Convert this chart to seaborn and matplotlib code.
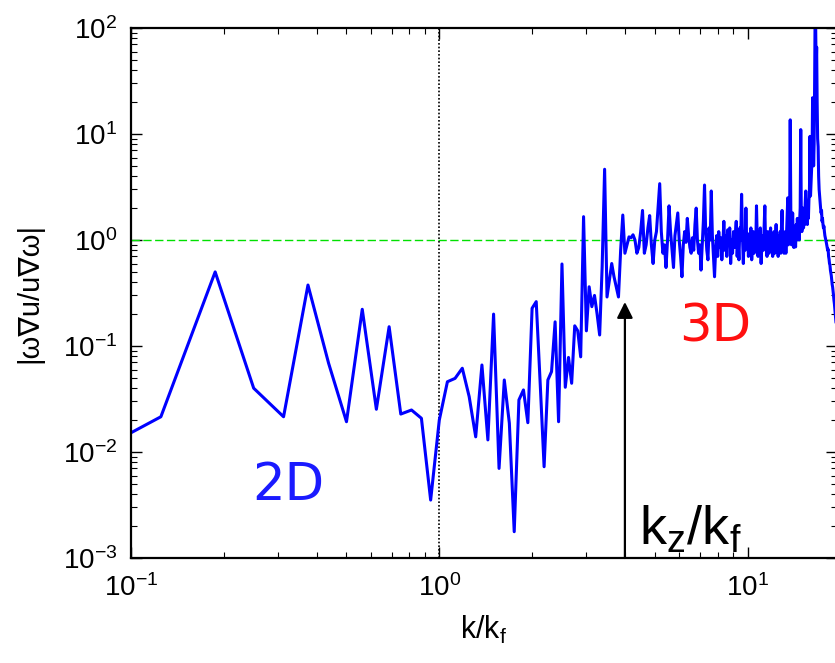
import numpy as np
import pandas as pd
import matplotlib
matplotlib.use("Agg")
import matplotlib.pyplot as plt
import seaborn as sns

sns.set_style("ticks")
plt.rcParams["font.family"] = ["Liberation Sans", "DejaVu Sans"]
plt.rcParams["mathtext.fontset"] = "custom"
plt.rcParams["mathtext.rm"] = "Liberation Sans"
plt.rcParams["mathtext.default"] = "regular"
plt.rcParams["text.color"] = "black"
plt.rcParams["axes.labelcolor"] = "black"
plt.rcParams["xtick.labelcolor"] = "black"
plt.rcParams["ytick.labelcolor"] = "black"

# shell index n, wavenumber k/k_f = n / 16
modes = np.arange(1, 313)

# |w.grad u / u.grad w| per shell, n = 1..47 (quasi-2D range)
ratio_2d = [
    0.0073, 0.0215, 0.50, 0.040, 0.0215, 0.376, 0.0687, 0.0193,
    0.222, 0.0253, 0.152, 0.0228, 0.0249, 0.0208, 0.00352, 0.0200,
    0.046, 0.0495, 0.0617, 0.0333, 0.0139, 0.0662, 0.0130, 0.200,
    0.0070, 0.0478, 0.0187, 0.00177, 0.031, 0.0385, 0.0189, 0.227,
    0.262, 0.0439, 0.00726, 0.0478, 0.0573, 0.169, 0.0193, 0.594,
    0.0408, 0.078, 0.0445, 0.155, 0.139, 0.079, 1.66,
]
# n = 48..95 (transition)
ratio_mid = [
    0.139, 0.362, 0.235, 0.30, 0.20, 0.127, 0.56, 4.65,
    0.29, 0.42, 0.60, 0.45, 0.36, 0.29, 0.8, 1.72,
    0.75, 0.9, 1.07, 1.05, 1.12, 1.0, 0.75, 0.85,
    1.2, 1.9, 0.75, 0.9, 1.3, 1.7, 0.9, 0.6,
    1.0, 1.2, 2.0, 3.4, 1.2, 0.75, 0.9, 0.55,
    1.0, 2.1, 1.2, 0.8, 0.55, 1.1, 1.4, 1.8,
]
# n = 96..224 (3D range)
ratio_3d = [
    1.0, 0.7, 0.45, 0.9, 1.2, 0.95, 1.6, 1.1,
    0.85, 0.75, 1.05, 0.8, 1.4, 2.0, 1.0, 0.75,
    0.9, 0.52, 0.9, 1.5, 3.3, 1.2, 0.8, 0.65,
    1.3, 1.0, 2.9, 1.1, 0.7, 0.45, 0.8, 1.1,
    0.7, 1.2, 0.85, 1.05, 0.65, 0.9, 1.5, 0.8,
    1.1, 0.7, 1.25, 0.9, 1.3, 0.6, 1.0, 0.75,
    1.2, 0.85, 1.1, 1.5, 0.7, 1.0, 0.65, 1.3,
    1.0, 2.7, 1.1, 0.6, 1.2, 0.8, 2.0, 0.9,
    1.15, 0.7, 1.0, 0.85, 1.3, 0.65, 0.95, 1.2,
    0.75, 1.1, 0.8, 2.1, 1.0, 0.7, 1.2, 0.9,
    1.3, 0.6, 0.9, 1.1, 0.8, 1.3, 2.1, 0.9,
    1.1, 0.7, 1.2, 0.85, 0.75, 1.05, 1.3, 0.8,
    1.1, 0.7, 1.0, 1.2, 0.75, 1.0, 1.4, 0.85,
    1.1, 0.7, 1.05, 0.8, 1.2, 0.75, 1.3, 1.9,
    0.9, 1.1, 0.75, 1.0, 1.2, 0.75, 1.1, 1.6,
    2.5, 0.9, 1.0, 1.5, 13.6, 1.8, 0.9, 1.2,
    1.8,
]
# n = 225..312 (forcing peak and beyond)
ratio_peak = [
    1.1, 0.85, 1.3, 1.0, 0.86, 1.4, 1.0, 1.6,
    1.1, 1.3, 1.0, 1.5, 2.0, 11.0, 1.6, 1.2,
    1.7, 2.0, 1.3, 1.6, 1.4, 2.2, 2.9, 1.5,
    1.8, 1.4, 2.0, 1.6, 2.4, 3.0, 9.5, 2.6,
    3.5, 4.5, 6.0, 22.0, 12.0, 5.0, 8.0, 30.0,
    150.0, 110.0, 40.0, 66.0, 20.0, 9.0, 7.6, 4.0,
    3.0, 2.6, 2.3, 2.0, 1.8, 1.9, 1.5, 1.6,
    1.4, 1.3, 1.35, 1.2, 1.1, 1.05, 1.0, 0.95,
    0.9, 0.85, 0.8, 0.82, 0.7, 0.66, 0.6, 0.58,
    0.52, 0.49, 0.46, 0.42, 0.38, 0.36, 0.33, 0.3,
    0.27, 0.25, 0.22, 0.2, 0.18, 0.16, 0.15, 0.14,
]

kz_over_kf = 4.0
arrow_tip = 0.26

df = pd.DataFrame({
    "k": modes / 16.0,
    "ratio": np.concatenate([ratio_2d, ratio_mid, ratio_3d, ratio_peak]),
})

fig = plt.figure(figsize=(8.35, 6.63), dpi=100)
ax = fig.add_axes([131 / 835, 105 / 663, 706 / 835, 530 / 663])

sns.lineplot(data=df, x="k", y="ratio", color="#0000ff", lw=2.2,
             estimator=None, sort=False, ax=ax)

ax.set_xscale("log")
ax.set_yscale("log")
ax.set_xlim(0.1, 19.5)
ax.set_ylim(1e-3, 1e2)

# reference lines
ax.axhline(1.0, color="#00e000", lw=1.0, ls=(0, (6, 2.5)), zorder=1)
ax.axvline(1.0, color="black", lw=1.2, ls=(0, (1, 1.2)), zorder=1)

# forcing-scale arrow
ax.annotate("", xy=(kz_over_kf, arrow_tip), xytext=(kz_over_kf, 1e-3),
            arrowprops=dict(arrowstyle="-|>", color="black", lw=1.6,
                            mutation_scale=24, shrinkA=0, shrinkB=0))

ax.text(0.324, 0.0048, "2D", color="#1a1aff", fontsize=37,
        family="DejaVu Sans", ha="center", va="center")
ax.text(7.87, 0.148, "3D", color="#ff1010", fontsize=37,
        family="DejaVu Sans", ha="center", va="center")
ax.text(4.45, 0.00133, r"$\mathregular{k_z/k_f}$", color="black",
        fontsize=39, ha="left", va="baseline")

ax.set_xlabel(r"k/k$_f$", fontsize=22, labelpad=8)
ax.set_ylabel("|ω∇u/u∇ω|", fontsize=21, labelpad=14)

for s in ax.spines.values():
    s.set_linewidth(1.6)
    s.set_color("black")
ax.spines["right"].set_visible(False)
ax.tick_params(which="both", direction="in", top=True, right=True,
               color="black", labelcolor="black")
ax.tick_params(which="major", length=8, width=1.0, labelsize=20)
ax.tick_params(axis="x", which="major", pad=12)
ax.tick_params(axis="y", which="major", pad=10)
ax.tick_params(which="minor", length=4.5, width=0.8)
ax.grid(False)

fig.savefig("out.png", dpi=100)
